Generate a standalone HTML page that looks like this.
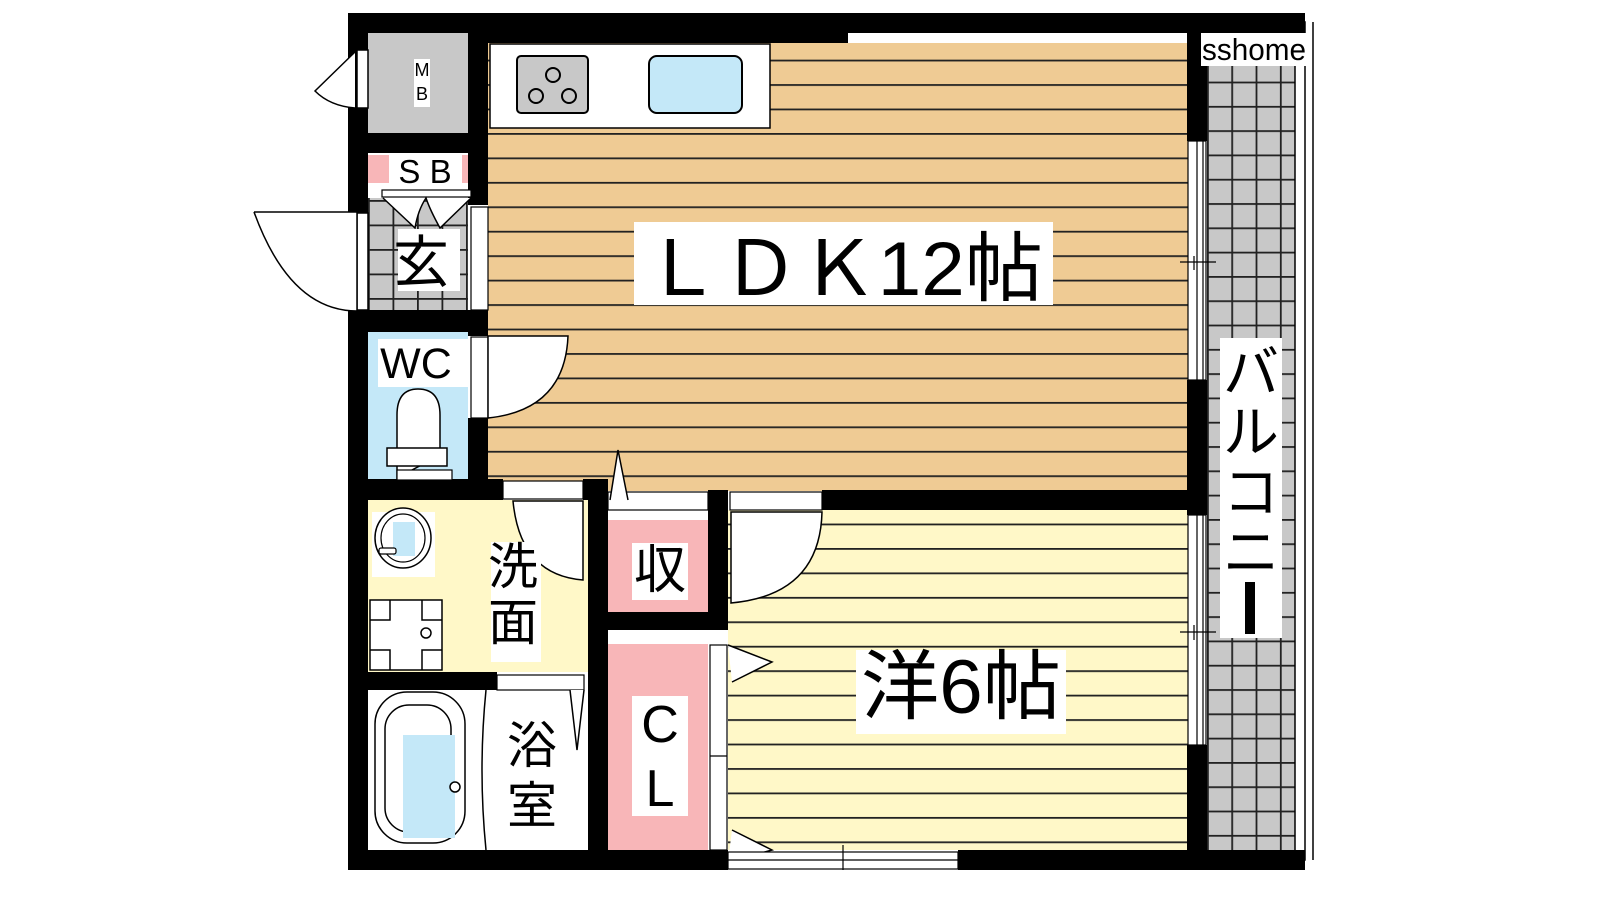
<!DOCTYPE html>
<html><head><meta charset="utf-8"><style>
html,body{margin:0;padding:0;background:#fff;width:1600px;height:900px;overflow:hidden}
svg{display:block}
text{font-family:"Liberation Sans","Noto Sans CJK JP",sans-serif;fill:#000}
</style></head><body>
<svg width="1600" height="900" viewBox="0 0 1600 900" xmlns="http://www.w3.org/2000/svg">
<defs>
<pattern id="ldk" x="0" y="133" width="10" height="24.45" patternUnits="userSpaceOnUse">
<rect width="10" height="24.45" fill="#efcb94"/><rect y="0" width="10" height="1.8" fill="#222"/></pattern>
<pattern id="yo" x="0" y="548" width="10" height="24.45" patternUnits="userSpaceOnUse">
<rect width="10" height="24.45" fill="#fff8c8"/><rect y="0" width="10" height="1.8" fill="#222"/></pattern>
<pattern id="bal" x="1207" y="33" width="24.3" height="24.3" patternUnits="userSpaceOnUse">
<rect width="24.3" height="24.3" fill="#c8c8c8"/><rect x="0" width="1.8" height="24.3" fill="#222"/><rect y="0" width="24.3" height="1.8" fill="#222"/></pattern>
<pattern id="gen" x="368" y="200" width="24.5" height="24.5" patternUnits="userSpaceOnUse">
<rect width="24.5" height="24.5" fill="#c8c8c8"/><rect x="0" width="1.8" height="24.5" fill="#222"/><rect y="0" width="24.5" height="1.8" fill="#222"/></pattern>
</defs>

<!-- floors -->
<rect x="488" y="43" width="700" height="448" fill="url(#ldk)"/>
<rect x="728" y="510" width="460" height="340" fill="url(#yo)"/>
<rect x="1207" y="33" width="88" height="818" fill="url(#bal)"/>
<rect x="1295" y="22" width="10" height="838" fill="#fff" stroke="#000" stroke-width="1.5"/>
<line x1="1313" y1="22" x2="1313" y2="860" stroke="#000" stroke-width="1.5"/>
<rect x="368" y="33" width="100" height="100" fill="#c8c8c8"/>
<rect x="368" y="155" width="100" height="28" fill="#f8b6b8"/>
<rect x="368" y="198" width="100" height="112" fill="url(#gen)"/>
<rect x="368" y="332" width="100" height="147" fill="#c4e8f8"/>
<rect x="368" y="500" width="220" height="172" fill="#fff8c8"/>
<rect x="368" y="690" width="220" height="160" fill="#fff"/>
<rect x="608" y="520" width="100" height="92" fill="#f8b6b8"/>
<rect x="608" y="644" width="100" height="206" fill="#f8b6b8"/>

<!-- walls -->
<g fill="#000">
<rect x="348" y="13" width="957" height="20"/>
<rect x="470" y="13" width="378" height="30"/>
<rect x="348" y="13" width="20" height="857"/>
<rect x="348" y="850" width="380" height="20"/>
<rect x="958" y="850" width="347" height="20"/>
<rect x="1187" y="13" width="20" height="128"/>
<rect x="1187" y="380" width="20" height="135"/>
<rect x="1187" y="745" width="20" height="125"/>
<rect x="468" y="13" width="20" height="192"/>
<rect x="468" y="310" width="20" height="26"/>
<rect x="468" y="418" width="20" height="82"/>
<rect x="348" y="133" width="140" height="20"/>
<rect x="348" y="310" width="140" height="22"/>
<rect x="348" y="479" width="155" height="21"/>
<rect x="583" y="479" width="25" height="21"/>
<rect x="588" y="480" width="20" height="390"/>
<rect x="348" y="672" width="149" height="18"/>
<rect x="708" y="490" width="20" height="140"/>
<rect x="608" y="612" width="120" height="18"/>
<rect x="822" y="490" width="365" height="20"/>
</g>

<!-- kitchen -->
<rect x="490" y="44" width="280" height="84" fill="#fff" stroke="#000" stroke-width="1.5"/>
<rect x="517" y="56" width="71" height="57" rx="4" fill="#c8c8c8" stroke="#000" stroke-width="2"/>
<g fill="none" stroke="#000" stroke-width="2"><circle cx="553" cy="75" r="7"/><circle cx="536" cy="96" r="7"/><circle cx="569" cy="96" r="7"/></g>
<rect x="649" y="56" width="93" height="57" rx="8" fill="#c4e8f8" stroke="#000" stroke-width="2"/>

<!-- MB door -->
<rect x="357" y="50" width="11" height="58" fill="#fff" stroke="#000" stroke-width="1.5"/>
<path d="M355 52 L315 91 Q330 106 355 108" fill="#fff" stroke="#000" stroke-width="1.5"/>
<rect x="414" y="59" width="16" height="48" fill="#fff"/>
<text x="422" y="76" font-size="18" text-anchor="middle">M</text>
<text x="422" y="100" font-size="18" text-anchor="middle">B</text>
<!-- SB -->
<rect x="389" y="153" width="73" height="37" fill="#fff"/>
<text x="425" y="183" font-size="33" text-anchor="middle">S B</text>
<rect x="382" y="190" width="89" height="7" fill="#fff" stroke="#000" stroke-width="1.2"/>
<path d="M383 198 L415 228 Q418 210 426 198 Q430 210 440 228 L471 198" fill="#fff" stroke="#000" stroke-width="1.5"/>
<!-- entrance door -->
<rect x="357" y="213" width="11" height="97" fill="#fff" stroke="#000" stroke-width="1.5"/>
<path d="M254 212 L357 212 L357 311 Q290 311 254 212" fill="#fff" stroke="#000" stroke-width="1.5"/>
<rect x="471" y="207" width="17" height="103" fill="#fff" stroke="#000" stroke-width="1.2"/>
<rect x="398" y="229" width="62" height="62" fill="#fff"/>
<text x="421" y="282" font-size="56" text-anchor="middle">玄</text>

<!-- WC -->
<rect x="378" y="339" width="97" height="48" fill="#fff"/>
<text x="416" y="378" font-size="43" text-anchor="middle">WC</text>
<path d="M397 478 L397 415 Q397 389 418 389 Q440 389 440 415 L440 455 Z" fill="#fff" stroke="#000" stroke-width="1.5"/>
<rect x="387" y="448" width="60" height="18" fill="#fff" stroke="#000" stroke-width="1.5"/>
<rect x="397" y="470" width="55" height="10" fill="#fff" stroke="#000" stroke-width="1.2"/>
<rect x="471" y="337" width="17" height="81" fill="#fff" stroke="#000" stroke-width="1.2"/>
<path d="M488 336 L568 336 Q565 410 488 418 Z" fill="#fff" stroke="#000" stroke-width="1.5"/>

<!-- LDK-lower openings -->
<rect x="608" y="492" width="100" height="18" fill="#fff" stroke="#000" stroke-width="1.2"/>
<path d="M610 500 L618 450 L628 500" fill="#fff" stroke="#000" stroke-width="1.5"/>
<rect x="503" y="481" width="80" height="18" fill="#fff" stroke="#000" stroke-width="1.2"/>
<path d="M513 501 L583 501 L583 580 Q520 575 513 501 Z" fill="#fff" stroke="#000" stroke-width="1.5"/>

<!-- 洗面 fixtures -->
<rect x="372" y="512" width="63" height="65" fill="#fff"/>
<ellipse cx="403" cy="538" rx="28" ry="30" fill="#fff" stroke="#000" stroke-width="1.5"/>
<ellipse cx="403" cy="538" rx="22" ry="24" fill="none" stroke="#000" stroke-width="1.2"/>
<rect x="393" y="522" width="22" height="34" fill="#c4e8f8"/>
<rect x="379" y="548" width="17" height="6" rx="2" fill="#fff" stroke="#000" stroke-width="1.2"/>
<rect x="370" y="600" width="72" height="70" fill="#fff" stroke="#000" stroke-width="1.5"/>
<path d="M390 600 V620 H370 M422 600 V620 H442 M390 670 V650 H370 M422 670 V650 H442" fill="none" stroke="#000" stroke-width="1.5"/>
<circle cx="426" cy="633" r="5" fill="#fff" stroke="#000" stroke-width="1.5"/>
<rect x="491" y="542" width="50" height="120" fill="#fff"/>
<text x="513" y="584" font-size="50" text-anchor="middle">洗</text>
<text x="513" y="640" font-size="50" text-anchor="middle">面</text>

<!-- bath -->
<rect x="497" y="675" width="87" height="15" fill="#fff" stroke="#000" stroke-width="1.2"/>
<path d="M570 690 L577 750 L584 690" fill="#fff" stroke="#000" stroke-width="1.5"/>
<rect x="384" y="711" width="90" height="151" rx="32" fill="#fff" stroke="#000" stroke-width="1.5" transform="translate(-9,-19)" />
<rect x="385" y="705" width="66" height="127" rx="24" fill="none" stroke="#000" stroke-width="1.5"/>
<rect x="403" y="735" width="52" height="103" fill="#c4e8f8"/>
<circle cx="455" cy="787" r="5" fill="#fff" stroke="#000" stroke-width="1.5"/>
<path d="M486 690 Q478 770 486 850" fill="none" stroke="#000" stroke-width="1.5"/>
<text x="532" y="763" font-size="50" text-anchor="middle">浴</text>
<text x="532" y="823" font-size="50" text-anchor="middle">室</text>

<!-- 収 / CL -->
<rect x="632" y="543" width="56" height="57" fill="#fff"/>
<text x="660" y="588" font-size="52" text-anchor="middle">収</text>
<rect x="632" y="696" width="56" height="120" fill="#fff"/>
<text x="660" y="742" font-size="52" text-anchor="middle">C</text>
<text x="660" y="806" font-size="52" text-anchor="middle">L</text>
<rect x="710" y="645" width="17" height="205" fill="#fff" stroke="#000" stroke-width="1.2"/>
<line x1="710" y1="756" x2="727" y2="756" stroke="#000" stroke-width="1.2"/>
<path d="M728 645 L772 662 L732 682" fill="#fff" stroke="#000" stroke-width="1.5"/>
<path d="M732 830 L772 850 L728 862" fill="#fff" stroke="#000" stroke-width="1.5"/>

<!-- 洋 door -->
<rect x="730" y="492" width="92" height="18" fill="#fff" stroke="#000" stroke-width="1.2"/>
<path d="M731 512 L822 512 Q820 595 731 603 Z" fill="#fff" stroke="#000" stroke-width="1.5"/>

<!-- bottom window -->
<rect x="728" y="852" width="230" height="17" fill="#fff" stroke="#000" stroke-width="1.2"/>
<line x1="728" y1="860" x2="958" y2="860" stroke="#000" stroke-width="1.2"/>
<line x1="843" y1="845" x2="843" y2="870" stroke="#000" stroke-width="1.2"/>

<!-- balcony windows -->
<g stroke="#000" stroke-width="1.2">
<rect x="1188" y="141" width="18" height="239" fill="#fff"/>
<line x1="1197" y1="141" x2="1197" y2="380"/><line x1="1203" y1="141" x2="1203" y2="380"/>
<line x1="1180" y1="262" x2="1216" y2="262"/><line x1="1194" y1="256" x2="1194" y2="270"/>
<rect x="1188" y="515" width="18" height="230" fill="#fff"/>
<line x1="1197" y1="515" x2="1197" y2="745"/><line x1="1203" y1="515" x2="1203" y2="745"/>
<line x1="1180" y1="632" x2="1216" y2="632"/><line x1="1194" y1="625" x2="1194" y2="640"/>
</g>

<!-- labels -->
<rect x="634" y="222" width="419" height="83" fill="#fff"/>
<text x="843" y="295" font-size="76" text-anchor="middle" textLength="400" lengthAdjust="spacingAndGlyphs">ＬＤＫ12帖</text>
<rect x="856" y="650" width="210" height="84" fill="#fff"/>
<text x="961" y="713" font-size="76" text-anchor="middle" textLength="200" lengthAdjust="spacingAndGlyphs">洋6帖</text>
<rect x="1220" y="338" width="62" height="300" fill="#fff"/>
<text x="1251" y="392" font-size="56" text-anchor="middle">バ</text>
<text x="1251" y="452" font-size="56" text-anchor="middle">ル</text>
<text x="1251" y="512" font-size="56" text-anchor="middle">コ</text>
<text x="1251" y="572" font-size="56" text-anchor="middle">ニ</text>
<rect x="1245" y="582" width="10" height="52" fill="#000"/>
<rect x="1201" y="33" width="107" height="33" fill="#fff"/>
<text x="1254" y="60" font-size="31" text-anchor="middle" textLength="104" lengthAdjust="spacingAndGlyphs">sshome</text>
</svg>
</body></html>
